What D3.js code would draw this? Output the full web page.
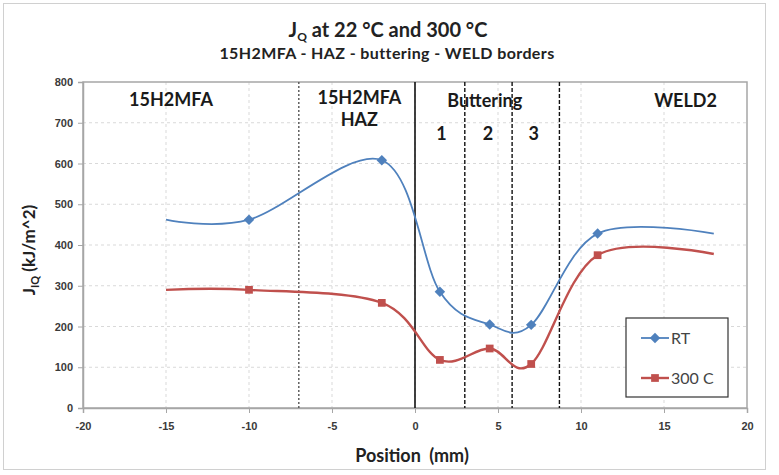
<!DOCTYPE html>
<html lang="en">
<head>
<meta charset="UTF-8">
<title>JQ at 22 °C and 300 °C</title>
<script src="https://d3js.org/d3.v7.min.js"></script>
<style>
    body { margin: 0; background: #fff; font-family: Lato, "Open Sans", sans-serif; }
    .tick text { font-size: 11px; font-weight: bold; fill: #3a3a3a; }
    .grid line { stroke: #d9d9d9; stroke-dasharray: 3,3; }
    .note { font-size: 18px; font-weight: bold; fill: #1a1a1a; text-anchor: middle; }
</style>
</head>
<body>
<div id="chart"></div>
<script>
    // Positions along the weld (mm) and J values (kJ/m^2)
    const positions = [-15, -10, -2, 1.5, 4.5, 7, 11, 18];
    const rtValues  = [462, 462, 608, 285, 205, 204, 428, 428];
    const hotValues = [290, 290, 258, 118, 146, 108, 375, 378];
    // first and last points have no marker in the original
    const hasMarker = [false, true, true, true, true, true, true, false];

    const xTicks = [-20, -15, -10, -5, 0, 5, 10, 15, 20];
    const yTicks = [0, 100, 200, 300, 400, 500, 600, 700, 800];

    // zone borders (mm)
    const borders = [
        {x: -7,  style: "dotted"},
        {x: 0,   style: "solid"},
        {x: 3,   style: "dashed"},
        {x: 5.85, style: "dashed"},
        {x: 8.7, style: "dashed"}
    ];

    // zone labels, in data units
    const zoneLabels = [
        {text: "15H2MFA",   x: -14.7, y: 740},
        {text: "15H2MFA",   x: -3.35, y: 745},
        {text: "HAZ",       x: -3.35, y: 692},
        {text: "Buttering", x: 4.2,   y: 738},
        {text: "1",         x: 1.6,   y: 657},
        {text: "2",         x: 4.4,   y: 657},
        {text: "3",         x: 7.15,  y: 657},
        {text: "WELD2",     x: 16.3,  y: 738}
    ];

    const seriesNames = ["RT", "300 C"];

    const W = 779, H = 475;
    const margin = {top: 82, right: 32, bottom: 67, left: 83};
    const width = W - margin.left - margin.right,
          height = H - margin.top - margin.bottom;

    const svg = d3.select("#chart").append("svg")
        .attr("width", W).attr("height", H);

    // outer chart border
    svg.append("rect")
        .attr("x", 3.5).attr("y", 3.5)
        .attr("width", 762).attr("height", 466)
        .attr("fill", "none").attr("stroke", "#d0d0d0");

    // titles
    const title = svg.append("text")
        .attr("x", 388).attr("y", 37)
        .attr("text-anchor", "middle")
        .style("font-size", "20px").style("font-weight", "bold").style("fill", "#222");
    title.append("tspan").text("J");
    title.append("tspan").attr("dy", 4).style("font-size", "12px").text("Q");
    title.append("tspan").attr("dy", -4).text(" at 22 °C and 300 °C");

    svg.append("text")
        .attr("x", 387).attr("y", 59)
        .attr("text-anchor", "middle")
        .style("font-size", "16px").style("font-weight", "bold").style("fill", "#222")
        .style("letter-spacing", "0.4px")
        .text("15H2MFA - HAZ - buttering - WELD borders");

    const g = svg.append("g").attr("transform", `translate(${margin.left},${margin.top})`);

    const x = d3.scaleLinear().domain([-20, 20]).range([0, width]);
    const y = d3.scaleLinear().domain([0, 800]).range([height, 0]);

    // gridlines
    g.append("g").attr("class", "grid")
        .selectAll("line").data(yTicks.slice(1, -1)).join("line")
        .attr("x1", 0).attr("x2", width)
        .attr("y1", d => y(d)).attr("y2", d => y(d));
    g.append("g").attr("class", "grid")
        .selectAll("line").data(xTicks.slice(1, -1)).join("line")
        .attr("y1", 0).attr("y2", height)
        .attr("x1", d => x(d)).attr("x2", d => x(d));

    // plot frame
    g.append("rect")
        .attr("width", width).attr("height", height)
        .attr("fill", "none").attr("stroke", "#a6a6a6").attr("stroke-width", 1.5);

    // axes
    const xAxis = g.append("g")
        .attr("transform", `translate(0,${height})`)
        .call(d3.axisBottom(x).tickValues(xTicks).tickFormat(d => String(d)).tickSize(5).tickPadding(9));
    const yAxis = g.append("g")
        .call(d3.axisLeft(y).tickValues(yTicks).tickFormat(d => String(d)).tickSize(5).tickPadding(5));
    [xAxis, yAxis].forEach(a => {
        a.select(".domain").attr("stroke", "#a6a6a6").attr("stroke-width", 1.5);
        a.selectAll(".tick line").attr("stroke", "#a6a6a6");
    });

    // axis titles
    svg.append("text")
        .attr("x", 412).attr("y", 462)
        .attr("text-anchor", "middle")
        .style("font-size", "18px").style("font-weight", "bold").style("fill", "#222")
        .style("word-spacing", "4px")
        .text("Position (mm)");

    const yTitle = svg.append("text")
        .attr("transform", `translate(35,${margin.top + height / 2 + 5}) rotate(-90)`)
        .attr("text-anchor", "middle")
        .style("font-size", "17px").style("font-weight", "bold").style("fill", "#222");
    yTitle.append("tspan").text("J");
    yTitle.append("tspan").attr("dy", 4).style("font-size", "11px").text("IQ");
    yTitle.append("tspan").attr("dy", -4).text(" (kJ/m^2)");

    // zone borders
    g.selectAll(".border").data(borders).join("line")
        .attr("class", "border")
        .attr("x1", d => x(d.x)).attr("x2", d => x(d.x))
        .attr("y1", 0).attr("y2", height)
        .attr("stroke", d => d.style === "dotted" ? "#555" : "#111")
        .attr("stroke-width", d => d.style === "solid" ? 1.6 : 1.4)
        .attr("stroke-dasharray", d => d.style === "dotted" ? "2,2" : d.style === "dashed" ? "4,2" : null);

    // zone labels
    g.selectAll(".note").data(zoneLabels).join("text")
        .attr("class", "note")
        .attr("x", d => x(d.x)).attr("y", d => y(d.y))
        .text(d => d.text);

    // series
    const series = [
        {name: seriesNames[0], values: rtValues,  color: "#4F81BD", marker: "diamond"},
        {name: seriesNames[1], values: hotValues, color: "#C0504D", marker: "square"}
    ];

    const line = d3.line()
        .x(d => x(d.x)).y(d => y(d.y))
        .curve(d3.curveCardinal.tension(0));

    const symbol = {
        diamond: d3.symbol().type(d3.symbolDiamond2).size(70),
        square: d3.symbol().type(d3.symbolSquare).size(60)
    };

    series.forEach(s => {
        const pts = positions.map((p, i) => ({x: p, y: s.values[i], m: hasMarker[i]}));
        g.append("path").datum(pts)
            .attr("fill", "none").attr("stroke", s.color).attr("stroke-width", s.marker === "square" ? 2.4 : 1.8)
            .attr("d", line);
        g.selectAll(null).data(pts.filter(d => d.m)).join("path")
            .attr("transform", d => `translate(${x(d.x)},${y(d.y)})`)
            .attr("d", symbol[s.marker]())
            .attr("fill", s.color);
    });

    // legend
    const leg = svg.append("g").attr("transform", "translate(626,318)");
    leg.append("rect").attr("width", 102).attr("height", 79)
        .attr("fill", "#fff").attr("stroke", "#333").attr("stroke-width", 1.2);
    series.forEach((s, i) => {
        const ly = 20 + i * 40;
        leg.append("line").attr("x1", 15).attr("x2", 43).attr("y1", ly).attr("y2", ly)
            .attr("stroke", s.color).attr("stroke-width", s.marker === "square" ? 2.4 : 1.8);
        leg.append("path").attr("transform", `translate(29,${ly})`)
            .attr("d", symbol[s.marker]()).attr("fill", s.color);
        leg.append("text").attr("x", 45).attr("y", ly + 6)
            .style("font-size", "16px").style("fill", "#444")
            .text(s.name);
    });
</script>
</body>
</html>
